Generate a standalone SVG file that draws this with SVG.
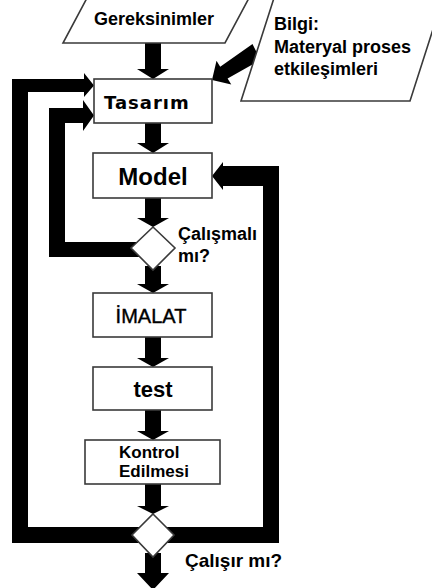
<svg xmlns="http://www.w3.org/2000/svg" width="432" height="588" viewBox="0 0 432 588">
<style>
.box{fill:#fff;stroke:#3a3a3a;stroke-width:1.6}
.t{font-family:"Liberation Sans",Arial,sans-serif;font-weight:bold;fill:#000}
.c{fill:#000;stroke:none}
</style>
<rect width="432" height="588" fill="#fff"/>
<g id="connectors">
<path class="c" d="M145,43 H161 V69 H169 L153,79 L137,69 H145 Z"/>
<path class="c" d="M145,123 H161 V143 H169 L153,153 L137,143 H145 Z"/>
<path class="c" d="M145,198 H161 V218 H169 L153,227 L137,218 H145 Z"/>
<path class="c" d="M145,266 H161 V284 H169 L153,293 L137,284 H145 Z"/>
<path class="c" d="M145,337 H161 V358 H169 L153,367 L137,358 H145 Z"/>
<path class="c" d="M145,410 H161 V431 H169 L153,440 L137,431 H145 Z"/>
<path class="c" d="M145,484 H161 V506 H169 L153,514 L137,506 H145 Z"/>
<path class="c" d="M145,553 H161 V573 H169 L153,590 L137,573 H145 Z"/>
<path class="c" d="M252.5,44 L220.2,66.7 L216.5,60.7 L212,80 L231.3,84.5 L227.6,78.5 L260.5,60 Z"/>
<path class="c" d="M140,527 H28 V92 H84 V97 L94,85.5 L84,73 V79 H12 V543 H140 Z"/>
<path class="c" d="M166,527 H263 V186 H223 V190 L212,176 L223,162 V166 H279 V543 H166 Z"/>
<path class="c" d="M140,242 H65 V123 H83 V131 L94,115.5 L83,100 V108 H49 V257 H140 Z"/>
</g>
<g id="gereksinimler">
<polygon class="box" points="87,-2 249,-2 225,43 63,43"/>
<text class="t" x="154" y="25" font-size="18" text-anchor="middle">Gereksinimler</text>
</g>
<g id="bilgi">
<polygon class="box" points="274,-2 443,-2 410,101 241,101"/>
<text class="t" x="274" y="30" font-size="18">Bilgi:</text>
<text class="t" x="274" y="53" font-size="18">Materyal proses</text>
<text class="t" x="274" y="75" font-size="18">etkileşimleri</text>
</g>
<g id="tasarim">
<rect class="box" x="94" y="79" width="118" height="44"/>
<text x="104" y="109" font-size="18" letter-spacing="1" font-family="DejaVu Sans, Verdana, sans-serif" font-weight="bold" fill="#000">Tasarım</text>
</g>
<g id="model">
<rect class="box" x="93" y="153" width="119" height="45"/>
<text class="t" x="153" y="185" font-size="24" text-anchor="middle">Model</text>
</g>
<g id="calismali">
<polygon class="box" points="153,227 175,248 153,270 131,248"/>
<text class="t" x="178" y="240" font-size="18">Çalışmalı</text>
<text class="t" x="178" y="262" font-size="18">mı?</text>
</g>
<g id="imalat">
<rect class="box" x="93" y="293" width="119" height="44"/>
<text x="151" y="323" font-size="20" text-anchor="middle" font-family="Liberation Sans, Arial, sans-serif" fill="#000" stroke="#000" stroke-width="0.4">İMALAT</text>
</g>
<g id="test">
<rect class="box" x="93" y="367" width="119" height="43"/>
<text class="t" x="153" y="397" font-size="22" text-anchor="middle">test</text>
</g>
<g id="kontrol">
<rect class="box" x="85" y="440" width="135" height="44"/>
<text class="t" x="119" y="458" font-size="17">Kontrol</text>
<text class="t" x="119" y="477" font-size="17">Edilmesi</text>
</g>
<g id="calisir">
<polygon class="box" points="153,514 174,535 153,557 132,535"/>
<text class="t" x="185" y="567" font-size="19">Çalışır mı?</text>
</g>
</svg>
